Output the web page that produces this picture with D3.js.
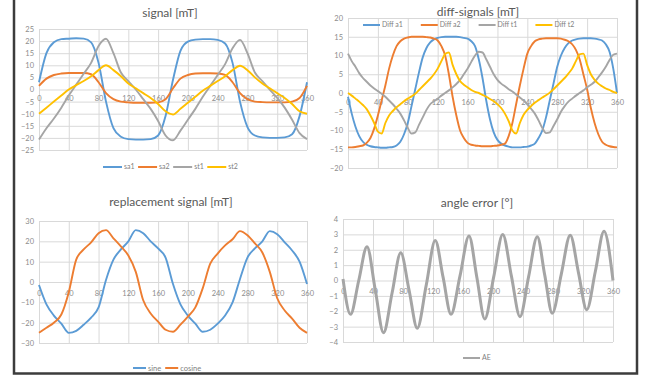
<!DOCTYPE html>
<html>
<head>
<meta charset="utf-8">
<script src="https://cdn.jsdelivr.net/npm/d3@7"></script>
<style>
  body { margin: 0; background: #fff; }
  svg { display: block; }
  text { font-family: Lato, "Open Sans", sans-serif; }
</style>
</head>
<body>
<script>
// angle axis, shared by every panel
const xTicks = [0, 40, 80, 120, 160, 200, 240, 280, 320, 360];
const angles10 = d3.range(0, 361, 10);
const angles5 = d3.range(0, 361, 5);

// signal [mT]
const signalTicks = [25, 20, 15, 10, 5, 0, -5, -10, -15, -20, -25];
const sa1 = [3, 15, 19.5, 20.8, 21, 21.2, 21, 19.5, 11, -5, -16, -19.5, -20.5, -20.7, -20.7, -20.5, -19, -11, 4,
  16, 19.8, 20.6, 20.8, 20.8, 20.5, 19, 11, -5, -15.5, -19, -19.8, -20, -20, -19.8, -18.5, -11, 3];
const sa2 = [1.5, 4.5, 6, 6.6, 6.8, 6.8, 6.8, 6.3, 3, -1.5, -4, -5, -5.3, -5.5, -5.5, -5.5, -5.3, -4, 0.5,
  4.5, 6, 6.6, 6.7, 6.7, 6.6, 6, 3, -1.5, -4, -5, -5.2, -5.3, -5.3, -5.3, -5, -3.5, 1.5];
const st1 = [-20.7, -16, -12, -7.5, -2.5, 2, 6.5, 11, 18, 21, 15, 7, 3.5, 0, -4, -8, -13, -19, -21,
  -17, -12.5, -8, -3, 1.5, 6, 10.5, 17, 20.5, 15, 7, 3.5, 0, -3.5, -7.5, -12.5, -18, -20.5];
const st2 = [-10, -7.5, -5, -2.5, 0, 1.8, 3.5, 5.5, 8, 10, 8, 5.5, 2.5, 0.5, -1.5, -3.5, -6, -9, -10.3,
  -8, -5.5, -3, -0.5, 1.5, 3.5, 5.5, 8, 9.8, 8, 5, 2.5, 0.5, -1.5, -3.5, -6, -9, -10];

// diff-signals [mT]
const diffTicks = [20, 15, 10, 5, 0, -5, -10, -15, -20];
const diffA1 = [-1, -5.5, -9, -11.5, -13, -13.8, -14.2, -14.4, -14.5, -14.6,
  -14.6, -14.5, -14.4, -14, -13, -11, -8, -3.5, 1, 5.5,
  9.5, 12, 13.5, 14.3, 14.7, 14.9, 15, 15, 15, 15,
  14.9, 14.7, 14.5, 13.8, 12.5, 9, 4, -2, -7, -10.5,
  -12.5, -13.5, -14, -14.3, -14.5, -14.5, -14.5, -14.4, -14.3, -14,
  -13.5, -12, -10, -6.5, -2, 2.5, 7, 10, 12, 13.3,
  14, 14.3, 14.5, 14.6, 14.6, 14.6, 14.5, 14.3, 14, 13,
  11, 6.5, 0];
const diffA2 = [-14.5, -14.5, -14.4, -14.2, -14, -13.3, -12, -9.5, -6, -2,
  2, 6.5, 10, 12.5, 13.8, 14.5, 14.8, 15, 15, 15,
  15, 14.9, 14.8, 14.5, 14, 12.5, 10, 5, -1, -6,
  -10, -12, -13.3, -13.8, -14, -14.1, -14.2, -14.2, -14.2, -14.1,
  -14, -13.8, -13.5, -11.5, -8, -3, 2, 6.5, 10.5, 12.5,
  13.8, 14.3, 14.5, 14.6, 14.6, 14.6, 14.6, 14.5, 14.2, 13.8,
  13, 11.5, 9, 5, 1, -4, -8, -11, -13, -13.8,
  -14.2, -14.4, -14.5];
const diffT1 = [10.5, 8.5, 7, 5.3, 4, 3, 2, 1.2, 0.5, -0.2,
  -1, -2, -3, -4.2, -5.5, -7.3, -9.3, -10.8, -10.5, -8.5,
  -6.5, -4.5, -3, -2.2, -1.5, -0.7, 0, 0.7, 1.5, 2.4,
  3.5, 5, 6.5, 8.3, 10, 11, 10.8, 9, 7, 5,
  3.5, 2.5, 1.8, 1, 0.4, -0.4, -1.2, -2, -3, -4.2,
  -5.5, -7.3, -9.3, -10.7, -10.5, -8.8, -7, -5, -3.5, -2.3,
  -1.5, -0.7, 0, 0.7, 1.5, 2.2, 3, 4.2, 5.5, 7,
  8.8, 10.2, 10.5];
const diffT2 = [0, -0.7, -1.5, -2.3, -3.2, -4.3, -6, -8, -10.3, -10.8,
  -8, -6, -4.8, -3.8, -3, -2.2, -1.5, -0.9, -0.2, 0.8,
  1.8, 2.8, 3.8, 5, 6.5, 8.5, 10.4, 10.8, 7.5, 5,
  3.2, 2.2, 1.5, 0.8, 0.3, 0, -0.5, -1, -1.6, -2.2,
  -3, -4, -5.5, -7.5, -10, -10.8, -8, -5.8, -4.5, -3.5,
  -2.6, -1.9, -1.2, -0.6, 0.1, 1, 2, 3, 4, 5.2,
  6.5, 8.5, 10.3, 10.5, 7.5, 5, 3.5, 2.5, 1.8, 1.2,
  0.8, 0.3, 0];

// replacement signal [mT]
const replTicks = [30, 20, 10, 0, -10, -20, -30];
const sine = [-1.5, -11, -16.5, -20.5, -25, -24, -21, -17.5, -12.5, 1, 11, 16, 20, 25.5, 24, 20, 16.5, 12, -1,
  -11, -16.5, -20.5, -24.5, -23.5, -20.5, -16.5, -10, 1.5, 12, 16.5, 20, 25, 23.5, 19.5, 15.5, 10, -1];
const cosine = [-25, -22.5, -20, -16, -5, 11, 16, 19.5, 24, 25.5, 21.5, 17.5, 13, 5, -9, -15.5, -19.5, -23.5, -24.5,
  -21, -17, -12.5, -3, 9, 14, 18, 21, 25, 23, 19, 14.5, 5, -8, -14, -18, -22.5, -25];

// angle error [°]
const aeTicks = [4, 3, 2, 1, 0, -1, -2, -3, -4];
const aeAngles = [0, 10, 21, 32, 43, 54, 65.5, 77, 88, 99, 111, 123, 133.5, 144, 156, 168, 178.5, 189, 201, 213,
  224.5, 236, 247.5, 259, 269, 279, 291, 303, 314, 325, 336.5, 348, 360];
const aeValues = [0.1, -2.2, 0, 2.2, -0.6, -3.4, -0.8, 1.8, -0.6, -3.1, -0.3, 2.6, 0.2, -2.2, 0.3, 2.9, 0.2, -2.5, 0.25, 3.0,
  0.3, -2.35, 0.25, 2.85, 0.35, -2.13, 0.4, 2.95, 0.5, -1.9, 0.6, 3.2, 0];

const blue = "#5b9bd5", orange = "#ed7d31", gray = "#a5a5a5", yellow = "#ffc000";

const svg = d3.select("body").append("svg")
  .attr("width", 649)
  .attr("height", 377);

svg.append("rect").attr("width", 649).attr("height", 377).attr("fill", "#fff");

const panels = [
  {
    title: "signal [mT]", titleX: 170, titleY: 17,
    left: 39, right: 307, top: 29, bottom: 150, yDomain: [-25, 25], yTicks: signalTicks,
    xPad: 6.5,
    series: [
      { name: "sa1", color: blue, x: angles10, y: sa1 },
      { name: "sa2", color: orange, x: angles10, y: sa2 },
      { name: "st1", color: gray, x: angles10, y: st1 },
      { name: "st2", color: yellow, x: angles10, y: st2 }
    ],
    legend: { x: 103, y: 167, len: 19, gap: 3.5, size: 7 }
  },
  {
    title: "diff-signals [mT]", titleX: 478, titleY: 16,
    left: 348, right: 617, top: 18, bottom: 168, yDomain: [-20, 20], yTicks: diffTicks,
    xPad: 7,
    series: [
      { name: "Diff a1", color: blue, x: angles5, y: diffA1 },
      { name: "Diff a2", color: orange, x: angles5, y: diffA2 },
      { name: "Diff t1", color: gray, x: angles5, y: diffT1 },
      { name: "Diff t2", color: yellow, x: angles5, y: diffT2 }
    ],
    legend: { x: 363, y: 25, len: 17, gap: 18, size: 7 }
  },
  {
    title: "replacement signal [mT]", titleX: 171, titleY: 206,
    left: 39, right: 307, top: 221, bottom: 343, yDomain: [-30, 30], yTicks: replTicks,
    xPad: 9,
    series: [
      { name: "sine", color: blue, x: angles10, y: sine },
      { name: "cosine", color: orange, x: angles10, y: cosine }
    ],
    legend: { x: 133, y: 368, len: 13, gap: 4, size: 7.5 }
  },
  {
    title: "angle error [°]", titleX: 477, titleY: 207,
    left: 343, right: 613, top: 219, bottom: 342, yDomain: [-4, 4], yTicks: aeTicks,
    xPad: 8.5, width: 3,
    series: [
      { name: "AE", color: gray, x: aeAngles, y: aeValues }
    ],
    legend: { x: 463, y: 358, len: 17, gap: 4, size: 7 }
  }
];

panels.forEach(p => {
  const x = d3.scaleLinear().domain([0, 360]).range([p.left, p.right]);
  const y = d3.scaleLinear().domain(p.yDomain).range([p.bottom, p.top]);
  const g = svg.append("g");

  // horizontal gridlines + y labels
  const yAxis = g.append("g")
    .attr("transform", `translate(${p.left},0)`)
    .call(d3.axisLeft(y).tickValues(p.yTicks).tickSize(-(p.right - p.left)).tickPadding(5));

  // vertical gridlines
  const xGrid = g.append("g")
    .attr("transform", `translate(0,${p.bottom})`)
    .call(d3.axisBottom(x).tickValues(xTicks).tickSize(-(p.bottom - p.top)).tickFormat(""));

  // x labels on the zero line
  const xAxis = g.append("g")
    .attr("transform", `translate(0,${y(0)})`)
    .call(d3.axisBottom(x).tickValues(xTicks).tickSize(0).tickPadding(p.xPad));

  [yAxis, xGrid, xAxis].forEach(a => {
    a.select(".domain").remove();
    a.selectAll("line").attr("stroke", "#d9d9d9").attr("stroke-width", 1);
    a.selectAll("text")
      .attr("fill", "#8c8c8c")
      .attr("font-size", "7.5px")
      .attr("font-family", "Lato, 'Open Sans', sans-serif");
  });

  g.append("text")
    .attr("x", p.titleX)
    .attr("y", p.titleY)
    .attr("text-anchor", "middle")
    .attr("fill", "#595959")
    .attr("font-size", "12px")
    .text(p.title);

  const line = d3.line()
    .x(d => x(d[0]))
    .y(d => y(d[1]))
    .curve(d3.curveMonotoneX);

  p.series.forEach(s => {
    g.append("path")
      .datum(s.x.map((a, i) => [a, s.y[i]]))
      .attr("d", line)
      .attr("fill", "none")
      .attr("stroke", s.color)
      .attr("stroke-width", p.width || 1.9)
      .attr("stroke-linejoin", "round");
  });

  // legend, laid out left to right
  const leg = g.append("g");
  let cx = p.legend.x;
  p.series.forEach(s => {
    leg.append("line")
      .attr("x1", cx).attr("x2", cx + p.legend.len)
      .attr("y1", p.legend.y).attr("y2", p.legend.y)
      .attr("stroke", s.color)
      .attr("stroke-width", 2);
    const t = leg.append("text")
      .attr("x", cx + p.legend.len + 2)
      .attr("y", p.legend.y)
      .attr("dy", "0.35em")
      .attr("fill", "#7f7f7f")
      .attr("font-size", p.legend.size + "px")
      .text(s.name);
    cx += p.legend.len + 2 + t.node().getComputedTextLength() + p.legend.gap;
  });
});

// frame round the chart group
svg.append("path")
  .attr("d", "M14,-3 V373.5 H637 V-3")
  .attr("fill", "none")
  .attr("stroke", "#3c3c3c")
  .attr("stroke-width", 2.5);
</script>
</body>
</html>
